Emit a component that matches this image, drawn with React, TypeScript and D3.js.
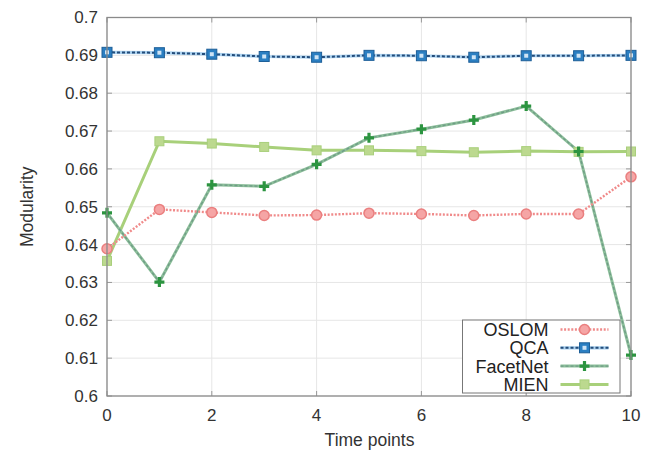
import React from "react";
import * as d3 from "d3";

const timePoints = [0, 1, 2, 3, 4, 5, 6, 7, 8, 9, 10];
const oslom = [0.6389, 0.6493, 0.6485, 0.6477, 0.6478, 0.6483, 0.6481, 0.6477, 0.6481, 0.6481, 0.6579];
const qca = [0.6908, 0.6907, 0.6903, 0.6897, 0.6895, 0.6900, 0.6899, 0.6895, 0.6899, 0.6899, 0.6900];
const facetNet = [0.6484, 0.6301, 0.6558, 0.6554, 0.6612, 0.6682, 0.6705, 0.6729, 0.6766, 0.6646, 0.6108];
const mien = [0.6357, 0.6673, 0.6667, 0.6658, 0.6649, 0.6649, 0.6647, 0.6644, 0.6647, 0.6645, 0.6646];
const xTicks = [0, 2, 4, 6, 8, 10];
const yTicks = [0.6, 0.61, 0.62, 0.63, 0.64, 0.65, 0.66, 0.67, 0.68, 0.69, 0.7];
const seriesNames = ["OSLOM", "QCA", "FacetNet", "MIEN"];

const W = 648;
const H = 453;
const L = 107, R = 631, T = 17.5, B = 396;
const FONT = "'Liberation Sans', Arial, sans-serif";

function Marker({ kind, x, y }: { kind: string; x: number; y: number }) {
  if (kind === "OSLOM")
    return <circle cx={x} cy={y} r={5} fill="#f5a5a5" stroke="#ea7f7f" strokeWidth={1.5} />;
  if (kind === "QCA")
    return (
      <g>
        <rect x={x - 5} y={y - 5} width={10} height={10} fill="#2b7fc2" stroke="#1d5f98" strokeWidth={1} />
        <rect x={x - 2} y={y - 2} width={4} height={4} fill="#cfe4f5" />
      </g>
    );
  if (kind === "FacetNet")
    return (
      <path
        d={`M${x - 5},${y}H${x + 5}M${x},${y - 5}V${y + 5}`}
        stroke="#2c9440"
        strokeWidth={3.2}
      />
    );
  return <rect x={x - 4.5} y={y - 4.5} width={9} height={9} fill="#bcd98f" stroke="#a9cf7c" strokeWidth={1} />;
}

function SeriesLine({ kind, d }: { kind: string; d: string }) {
  if (kind === "OSLOM")
    return <path d={d} fill="none" stroke="#f08a8a" strokeWidth={2.4} strokeDasharray="2,1.6" />;
  if (kind === "QCA")
    return (
      <g>
        <path d={d} fill="none" stroke="#a9d0ee" strokeWidth={3.2} />
        <path d={d} fill="none" stroke="#244c7a" strokeWidth={2} strokeDasharray="3,2" />
      </g>
    );
  if (kind === "FacetNet")
    return (
      <g>
        <path d={d} fill="none" stroke="#8cbf9a" strokeWidth={3} />
        <path d={d} fill="none" stroke="#6f9c86" strokeWidth={1.4} strokeDasharray="3,2" />
      </g>
    );
  return <path d={d} fill="none" stroke="#a8d07a" strokeWidth={3} />;
}

export default function App() {
  const x = d3.scaleLinear().domain([0, 10]).range([L, R]);
  const y = d3.scaleLinear().domain([0.6, 0.7]).range([B, T]);
  const line = d3
    .line<number>()
    .x((_, i) => x(timePoints[i]))
    .y((v) => y(v));

  const data: Record<string, number[]> = {
    OSLOM: oslom,
    QCA: qca,
    FacetNet: facetNet,
    MIEN: mien,
  };
  const drawOrder = ["MIEN", "FacetNet", "OSLOM", "QCA"];

  const legX = 462.5, legY = 320, legW = 157.5, legH = 73;
  const rowH = 18.3;

  return (
    <svg
      width={W}
      height={H}
      style={{ position: "absolute", left: 0, top: 0, background: "#fff" }}
      fontFamily={FONT}
    >
      <rect width={W} height={H} fill="#fff" />
      {/* grid */}
      {xTicks.map((t) => (
        <line key={"gx" + t} x1={x(t)} x2={x(t)} y1={T} y2={B} stroke="#e6e6e6" strokeWidth={1} />
      ))}
      {yTicks.map((t) => (
        <line key={"gy" + t} x1={L} x2={R} y1={y(t)} y2={y(t)} stroke="#e6e6e6" strokeWidth={1} />
      ))}
      {/* inward ticks */}
      {yTicks.map((t) => (
        <g key={"ty" + t} stroke="#999" strokeWidth={1}>
          <line x1={L} x2={L + 5} y1={y(t)} y2={y(t)} />
          <line x1={R} x2={R - 5} y1={y(t)} y2={y(t)} />
        </g>
      ))}
      {xTicks.map((t) => (
        <g key={"tx" + t} stroke="#999" strokeWidth={1}>
          <line x1={x(t)} x2={x(t)} y1={B} y2={B - 5} />
          <line x1={x(t)} x2={x(t)} y1={T} y2={T + 5} />
        </g>
      ))}
      {/* series */}
      {drawOrder.map((k) => (
        <SeriesLine key={"l" + k} kind={k} d={line(data[k]) || ""} />
      ))}
      {drawOrder.map((k) => (
        <g key={"m" + k}>
          {data[k].map((v, i) => (
            <Marker key={i} kind={k} x={x(timePoints[i])} y={y(v)} />
          ))}
        </g>
      ))}
      {/* frame */}
      <rect x={L} y={T} width={R - L} height={B - T} fill="none" stroke="#8a8a8a" strokeWidth={1.3} />
      {/* tick labels */}
      {yTicks.map((t) => (
        <text
          key={"ly" + t}
          x={L - 9}
          y={y(t)}
          dy="0.35em"
          textAnchor="end"
          fontSize={17}
          fill="#333"
        >
          {d3.format("~g")(t)}
        </text>
      ))}
      {xTicks.map((t) => (
        <text key={"lx" + t} x={x(t)} y={B + 19} dy="0.35em" textAnchor="middle" fontSize={17} fill="#333">
          {t}
        </text>
      ))}
      <text x={(L + R) / 2 + 0.5} y={446} textAnchor="middle" fontSize={17.5} fill="#333">
        Time points
      </text>
      <text
        transform={`translate(33,${(T + B) / 2}) rotate(-90)`}
        textAnchor="middle"
        fontSize={17.5}
        fill="#333"
      >
        Modularity
      </text>
      {/* legend */}
      <rect x={legX} y={legY} width={legW} height={legH} fill="#fff" stroke="#777" strokeWidth={1} />
      {seriesNames.map((k, i) => {
        const cy = legY + 9.5 + i * rowH;
        return (
          <g key={"lg" + k}>
            <text x={legX + 86} y={cy} dy="0.36em" textAnchor="end" fontSize={18} fill="#222">
              {k}
            </text>
            <SeriesLine kind={k} d={`M${legX + 98},${cy}H${legX + 146}`} />
            <Marker kind={k} x={legX + 122} y={cy} />
          </g>
        );
      })}
    </svg>
  );
}
